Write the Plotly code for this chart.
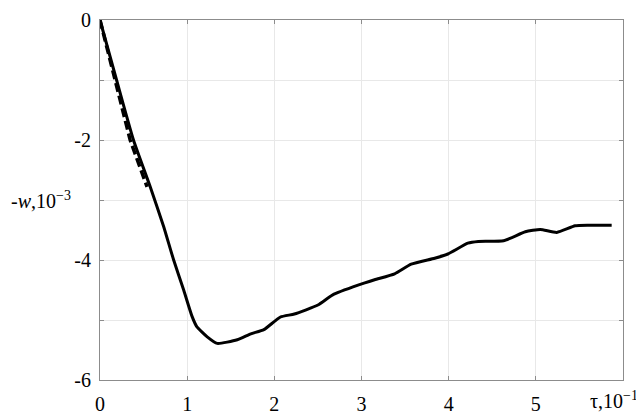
import plotly.graph_objects as go

# Solid curve (tau in 1e-1, -w in 1e-3)
tau_solid = [0.0, 0.19, 0.384, 0.576, 0.73, 0.845, 0.96, 1.056, 1.11, 1.23, 1.345, 1.575, 1.73, 1.88,
             2.07, 2.23, 2.50, 2.67, 2.96, 3.15, 3.38, 3.57, 3.84, 3.99, 4.22, 4.34, 4.63,
             4.88, 5.05, 5.24, 5.45, 5.61, 5.87]
w_solid = [0.0, -1.0, -2.0, -2.78, -3.44, -4.0, -4.5, -4.94, -5.11, -5.28, -5.39, -5.33, -5.23, -5.16,
           -4.95, -4.90, -4.75, -4.58, -4.42, -4.33, -4.23, -4.07, -3.97, -3.90, -3.72, -3.69, -3.68,
           -3.53, -3.49, -3.54, -3.43, -3.42, -3.42]

# Dashed curve (initial part)
tau_dash = [0.0, 0.346, 0.54]
w_dash = [0.0, -2.0, -2.78]

x_tickvals = [0, 1, 2, 3, 4, 5, 6]
x_ticktext = ["0", "1", "2", "3", "4", "5", ""]
y_tickvals = [0, -1, -2, -3, -4, -5, -6]
y_ticktext = ["0", "", "-2", "", "-4", "", "-6"]

serif = "Liberation Serif, Times New Roman, serif"

fig = go.Figure()
fig.add_trace(go.Scatter(x=tau_dash, y=w_dash, mode="lines",
                         line=dict(color="black", width=3.5, dash="9px,4px"),
                         showlegend=False, hoverinfo="skip"))
fig.add_trace(go.Scatter(x=tau_solid, y=w_solid, mode="lines",
                         line=dict(color="black", width=3, shape="spline", smoothing=0.5),
                         showlegend=False))

axis_common = dict(showline=True, linecolor="#8c8c8c", linewidth=1, mirror="ticks",
                   ticks="inside", ticklen=4, tickcolor="#8c8c8c", automargin=False,
                   showgrid=True, gridcolor="#e8e8e8", gridwidth=1, zeroline=False,
                   tickfont=dict(family=serif, size=20, color="black"))

fig.update_xaxes(range=[0, 6], tickmode="array", tickvals=x_tickvals, ticktext=x_ticktext,
                 ticklabelstandoff=6, **axis_common)
fig.update_yaxes(range=[-6, 0], tickmode="array", tickvals=y_tickvals, ticktext=y_ticktext,
                 ticklabelstandoff=4, **axis_common)

fig.add_annotation(xref="paper", yref="y", x=-0.052, y=-3.0, xanchor="right", yanchor="middle",
                   text="-<i>w</i>,10<sup>−3</sup>", showarrow=False,
                   font=dict(family=serif, size=20, color="black"))
fig.add_annotation(xref="x", yref="paper", x=5.6, y=0, xanchor="left", yanchor="top", yshift=-6,
                   text="τ,10<sup>−1</sup>", showarrow=False,
                   font=dict(family=serif, size=20, color="black"))

# page body has an 8px default margin; size the figure to fit the 644x414 window
fig.update_layout(width=636, height=406, margin=dict(l=92, r=21, t=12, b=34),
                  plot_bgcolor="white", paper_bgcolor="white")

fig.write_html("out.html")
